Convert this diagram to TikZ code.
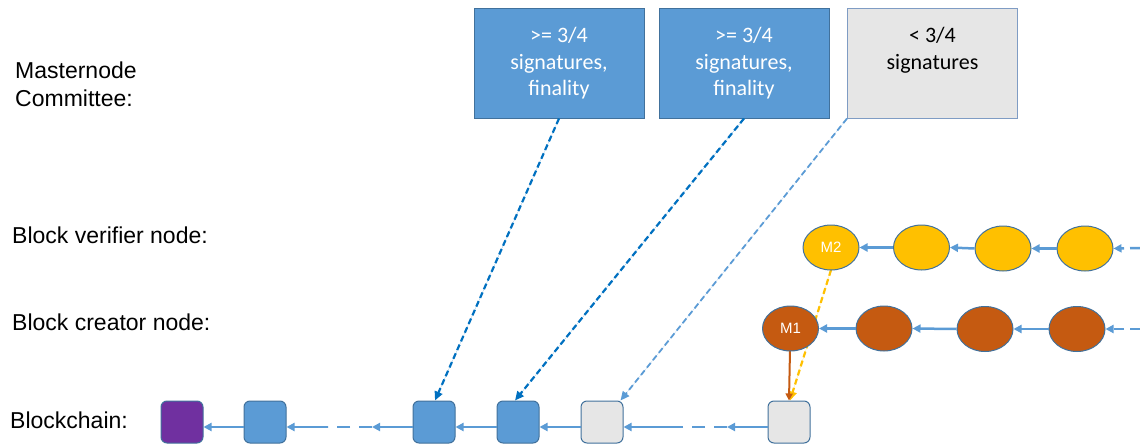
\documentclass[tikz,border=0pt]{standalone}
\usepackage{fontspec}
\setmainfont{Liberation Sans}
\newfontfamily\calibri{Carlito}
\usetikzlibrary{arrows.meta,shapes.geometric}
\definecolor{cblue}{HTML}{5B9BD5}
\definecolor{cdblue}{HTML}{0070C0}
\definecolor{cborder}{HTML}{41719C}
\definecolor{cgray}{HTML}{E6E6E6}
\definecolor{cgrayb}{HTML}{7F9CC4}
\definecolor{cpurple}{HTML}{7030A0}
\definecolor{cyellow}{HTML}{FFC000}
\definecolor{cbrown}{HTML}{C55A11}
\begin{document}
\begin{tikzpicture}[x=1pt,y=-1pt,
  lbl/.style={font=\fontsize{23}{28}\selectfont, inner sep=0pt, align=left},
  combox/.style={draw=cborder, line width=1pt, minimum width=170pt, minimum height=109pt,
    inner sep=0pt, align=center, font=\calibri\fontsize{22}{26.5}\selectfont},
  blk/.style={draw=cborder, line width=1pt, rounded corners=6pt, minimum size=42pt, inner sep=0pt},
  ell/.style={ellipse, draw=cborder, line width=1pt, minimum width=56pt, minimum height=45pt,
    inner sep=0pt, font=\fontsize{15}{17}\selectfont, text=white},
  arr/.style={draw=cblue, line width=2.5pt, -{Triangle[length=8pt,width=8pt]}},
  chaindash/.style={draw=cblue, line width=2.5pt, dash pattern=on 13pt off 9pt},
  conn/.style={line width=2.2pt, dash pattern=on 6pt off 3.5pt, -{Triangle[length=9pt,width=8pt]}}
]
\useasboundingbox (0,0) rectangle (1140,444);

% left labels
\node[lbl, anchor=north west] (lmc) at (15,62) {Masternode\\Committee:};
\node[lbl, anchor=base west] (lbv) at (12,243) {Block verifier node:};
\node[lbl, anchor=base west] (lbc) at (12,330) {Block creator node:};
\node[lbl, anchor=base west] (lbl) at (10,428) {Blockchain:};

% committee boxes
\node[combox, fill=cblue, text=white] (c1) at (559,63.5) {>= 3/4\\signatures,\\finality};
\node[combox, fill=cblue, text=white] (c2) at (744,63.5) {>= 3/4\\signatures,\\finality};
\node[combox, fill=cgray, draw=cgrayb, text=black] (c3) at (932.5,63.5) {< 3/4\\signatures\\\phantom{finality}};

% blockchain
\node[blk, fill=cpurple] (b1) at (182,422) {};
\node[blk, fill=cblue] (b2) at (265,422) {};
\node[blk, fill=cblue] (b3) at (434,422) {};
\node[blk, fill=cblue] (b4) at (518,422) {};
\node[blk, fill=cgray] (b5) at (602,422) {};
\node[blk, fill=cgray] (b6) at (789,422) {};

\coordinate (m1) at (372,427);
\coordinate (m2) at (328,427);
\coordinate (m3) at (727,427);
\coordinate (m4) at (671,427);

\draw[arr] ([yshift=-5pt]b2.west) -- ([yshift=-5pt]b1.east);
\draw[arr] ([yshift=-5pt]b3.west) -- (m1);
\draw[chaindash] (m1) -- (m2);
\draw[arr] (m2) -- ([yshift=-5pt]b2.east);
\draw[arr] ([yshift=-5pt]b4.west) -- ([yshift=-5pt]b3.east);
\draw[arr] ([yshift=-5pt]b5.west) -- ([yshift=-5pt]b4.east);
\draw[arr] ([yshift=-5pt]b6.west) -- (m3);
\draw[chaindash] (m3) -- (m4);
\draw[arr] (m4) -- ([yshift=-5pt]b5.east);

% creator / verifier chains: connectors behind
\coordinate (inY) at (1140,248);
\coordinate (inB) at (1140,329);

\draw[conn, draw=cyellow, fill=cyellow] (831,270) -- ([xshift=1pt]b6.north);
\draw[line width=2pt, draw=cbrown, -{Triangle[length=7pt,width=7pt]}, fill=cbrown] (790,350) -- (b6.north);

\node[ell, fill=cyellow] (y1) at (831,247.5) {M2};
\node[ell, fill=cyellow] (y2) at (921.5,247.5) {};
\node[ell, fill=cyellow] (y3) at (1003,248.5) {};
\node[ell, fill=cyellow] (y4) at (1085,248.5) {};

\node[ell, fill=cbrown] (r1) at (790.5,328.5) {M1};
\node[ell, fill=cbrown] (r2) at (884,328.5) {};
\node[ell, fill=cbrown] (r3) at (985,329) {};
\node[ell, fill=cbrown] (r4) at (1077,329) {};

\draw[arr] (y2.west) -- (y1.east);
\draw[arr] (y3.west) -- (y2.east);
\draw[arr] (y4.west) -- (y3.east);
\draw[arr, dash pattern=on 10pt off 6pt] (inY) -- (y4.east);

\draw[arr] (r2.west) -- (r1.east);
\draw[arr] (r3.west) -- (r2.east);
\draw[arr] (r4.west) -- (r3.east);
\draw[arr, dash pattern=on 10pt off 6pt] (inB) -- (r4.east);

% committee connectors
\draw[conn, draw=cdblue, fill=cdblue] (c1.south) -- ([xshift=1pt]b3.north);
\draw[conn, draw=cdblue, fill=cdblue] (c2.south) -- ([xshift=-3pt]b4.north);
\draw[conn, draw=cblue, fill=cblue, line width=1.8pt] (c3.south west) -- ([xshift=-3pt]b5.north east);

\end{tikzpicture}
\end{document}
